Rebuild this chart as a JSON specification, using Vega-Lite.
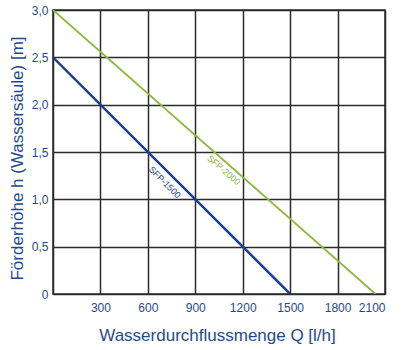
{
  "$schema": "https://vega.github.io/schema/vega-lite/v6.json",
  "autosize": {"type": "none"},
  "padding": {"left": 53, "top": 10, "right": 17, "bottom": 56},
  "width": 332,
  "height": 284,
  "background": "white",
  "config": {
    "font": "Liberation Sans",
    "view": {"stroke": "#2b2b2b", "strokeWidth": 1.5},
    "axis": {
      "gridColor": "#2b2b2b",
      "gridWidth": 1.5,
      "gridOpacity": 1,
      "domain": false,
      "ticks": false,
      "labelColor": "#1f4a8f",
      "titleColor": "#1f4a8f",
      "labelFont": "Liberation Sans",
      "titleFont": "Liberation Sans",
      "labelFontSize": 12,
      "titleFontSize": 17,
      "titleFontWeight": "normal"
    }
  },
  "datasets": {
    "lines": [
      {"Q": 0, "h": 2.5, "series": "SFP-1500"},
      {"Q": 1500, "h": 0, "series": "SFP-1500"},
      {"Q": 0, "h": 3.0, "series": "SFP-2000"},
      {"Q": 2040, "h": 0, "series": "SFP-2000"}
    ],
    "labels": [
      {"Q": 707, "h": 1.18, "series": "SFP-1500", "angle": 45},
      {"Q": 1080, "h": 1.31, "series": "SFP-2000", "angle": 41}
    ]
  },
  "layer": [
    {
      "data": {"name": "lines"},
      "mark": {"type": "line", "clip": true},
      "encoding": {
        "x": {
          "field": "Q", "type": "quantitative",
          "scale": {"domain": [0, 2100], "nice": false},
          "axis": {
            "values": [0, 300, 600, 900, 1200, 1500, 1800, 2100],
            "format": "d",
            "labelExpr": "datum.value == 0 ? '' : datum.label",
            "labelPadding": 8,
            "title": "Wasserdurchflussmenge Q [l/h]",
            "titleBaseline": "alphabetic",
            "titleAnchor": "middle",
            "titleX": 164,
            "titleY": 46
          }
        },
        "y": {
          "field": "h", "type": "quantitative",
          "scale": {"domain": [0, 3], "nice": false},
          "axis": {
            "values": [0, 0.5, 1, 1.5, 2, 2.5, 3],
            "labelExpr": "datum.value == 0 ? '0' : replace(format(datum.value, '.1f'), '.', ',')",
            "labelPadding": 5,
            "title": "Förderhöhe h (Wassersäule) [m]",
            "titleAngle": -90,
            "titleBaseline": "alphabetic",
            "titleAlign": "center",
            "titleX": -31,
            "titleY": 148
          }
        },
        "detail": {"field": "series"},
        "color": {
          "field": "series", "type": "nominal",
          "scale": {"domain": ["SFP-1500", "SFP-2000"], "range": ["#1b3f8c", "#8cb83c"]},
          "legend": null
        },
        "strokeWidth": {
          "field": "series", "type": "nominal",
          "scale": {"domain": ["SFP-1500", "SFP-2000"], "range": [2.5, 1.8]},
          "legend": null
        }
      }
    },
    {
      "data": {"name": "labels"},
      "mark": {"type": "text", "fontSize": 9, "align": "center", "baseline": "middle"},
      "encoding": {
        "x": {"field": "Q", "type": "quantitative"},
        "y": {"field": "h", "type": "quantitative"},
        "text": {"field": "series"},
        "angle": {"field": "angle", "type": "quantitative", "scale": null},
        "color": {
          "field": "series", "type": "nominal",
          "scale": {"domain": ["SFP-1500", "SFP-2000"], "range": ["#1b3f8c", "#8cb83c"]},
          "legend": null
        }
      }
    }
  ]
}
